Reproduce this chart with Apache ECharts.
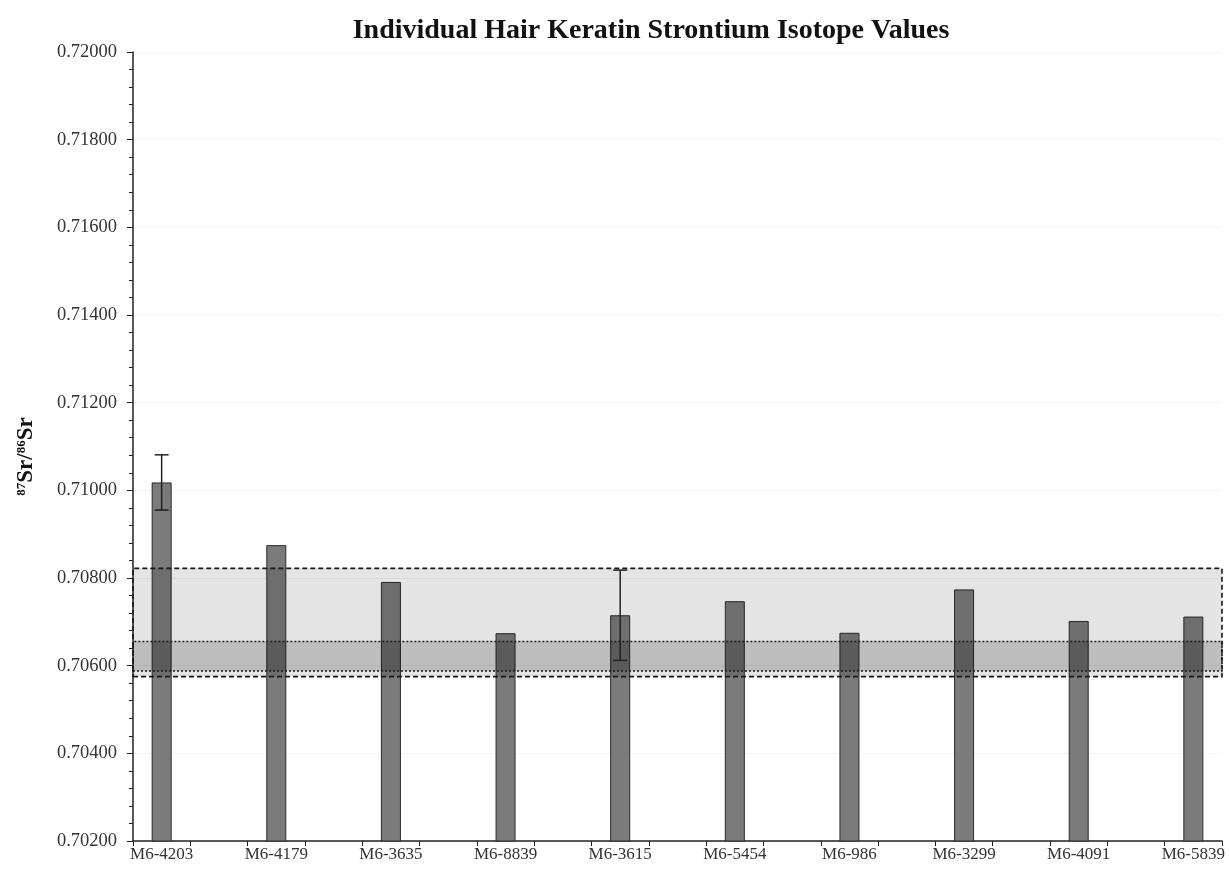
<!DOCTYPE html>
<html>
<head>
<meta charset="utf-8">
<script src="https://cdn.jsdelivr.net/npm/echarts@6/dist/echarts.min.js"></script>
<style>html,body{margin:0;padding:0;background:#fff}#c{width:1229px;height:871px}</style>
</head>
<body>
<div id="c"></div>
<script>
// ---- data ----
var samples = ['M6-4203','M6-4179','M6-3635','M6-8839','M6-3615','M6-5454','M6-986','M6-3299','M6-4091','M6-5839'];
var srValues = [0.71018, 0.70875, 0.70791, 0.70674, 0.70715, 0.70747, 0.70675, 0.70774, 0.70702, 0.70712];
var srErrors = [0.00063, 0, 0, 0, 0.00103, 0, 0, 0, 0, 0];
var outerRange = [0.70575, 0.70822];
var innerRange = [0.70588, 0.70655];
var yTicks = [0.702, 0.704, 0.706, 0.708, 0.710, 0.712, 0.714, 0.716, 0.718, 0.720];

// ---- build slots: each sample followed by an empty spacer slot ----
var cats = [], barData = [], errData = [];
samples.forEach(function (s, i) {
  cats.push(s);
  barData.push(srValues[i]);
  if (srErrors[i] > 0) errData.push([cats.length - 1, srValues[i] - srErrors[i], srValues[i] + srErrors[i]]);
  if (i < samples.length - 1) { cats.push(''); barData.push('-'); }
});

var serif = '"Liberation Serif", "DejaVu Serif", serif';
var chart = echarts.init(document.getElementById('c'));
chart.setOption({
  animation: false,
  title: {
    text: 'Individual Hair Keratin Strontium Isotope Values',
    left: 646, top: 12, textAlign: 'center',
    textStyle: { fontFamily: serif, fontWeight: 'bold', fontSize: 28, color: '#111' }
  },
  grid: { left: 133, right: 7, top: 52, bottom: 30 },
  xAxis: {
    type: 'category', data: cats, boundaryGap: true,
    axisLine: { lineStyle: { color: '#222', width: 1.5 } },
    axisTick: { show: true, interval: 0, length: 5, lineStyle: { color: '#222' } },
    axisLabel: { interval: 0, fontFamily: serif, fontSize: 17, color: '#333', margin: 5 },
    splitLine: { show: false }
  },
  yAxis: {
    type: 'value', min: yTicks[0], max: yTicks[yTicks.length - 1], interval: 0.002,
    name: '{sup|87}{b|Sr/}{sup|86}{b|Sr}', nameLocation: 'middle', nameGap: 95, nameRotate: 90,
    nameTextStyle: {
      padding: [0, 20, 0, 0],
      rich: {
        b: { fontFamily: serif, fontWeight: 'bold', fontSize: 23, color: '#111' },
        sup: { fontFamily: serif, fontWeight: 'bold', fontSize: 13, color: '#111', verticalAlign: 'top', padding: [0,0,9,0] }
      }
    },
    axisLine: { show: true, lineStyle: { color: '#222', width: 1.5 } },
    axisTick: { show: true, length: 6, lineStyle: { color: '#222' } },
    minorTick: { show: true, splitNumber: 5, length: 4, lineStyle: { color: '#222' } },
    axisLabel: { fontFamily: serif, fontSize: 18.5, color: '#333', margin: 16,
      formatter: function (v) { return v.toFixed(5); } },
    splitLine: { show: true, lineStyle: { color: '#f3f3f3', width: 1 } }
  },
  series: [
    {
      type: 'bar', data: barData, barWidth: 20, z: 2,
      itemStyle: { color: '#7b7b7b', borderColor: '#2a2a2a', borderWidth: 1 }
    },
    {
      type: 'line', data: [], z: 5, silent: true,
      markArea: {
        silent: true, z: 5,
        data: [
          [{ yAxis: outerRange[0], itemStyle: { color: 'rgba(0,0,0,0.105)', borderColor: '#1a1a1a', borderWidth: 1.6, borderType: [5, 3] } },
           { yAxis: outerRange[1] }],
          [{ yAxis: innerRange[0], itemStyle: { color: 'rgba(0,0,0,0.17)', borderColor: '#1a1a1a', borderWidth: 1.6, borderType: [2, 2] } },
           { yAxis: innerRange[1] }]
        ]
      }
    },
    {
      type: 'custom', z: 6, silent: true, data: errData,
      renderItem: function (params, api) {
        var x = api.value(0);
        var lo = api.coord([x, api.value(1)]);
        var hi = api.coord([x, api.value(2)]);
        var w = 7;
        var st = { stroke: '#222', lineWidth: 1.5 };
        return { type: 'group', children: [
          { type: 'line', shape: { x1: lo[0], y1: lo[1], x2: hi[0], y2: hi[1] }, style: st },
          { type: 'line', shape: { x1: lo[0] - w, y1: lo[1], x2: lo[0] + w, y2: lo[1] }, style: st },
          { type: 'line', shape: { x1: hi[0] - w, y1: hi[1], x2: hi[0] + w, y2: hi[1] }, style: st }
        ]};
      }
    }
  ]
});
</script>
</body>
</html>
